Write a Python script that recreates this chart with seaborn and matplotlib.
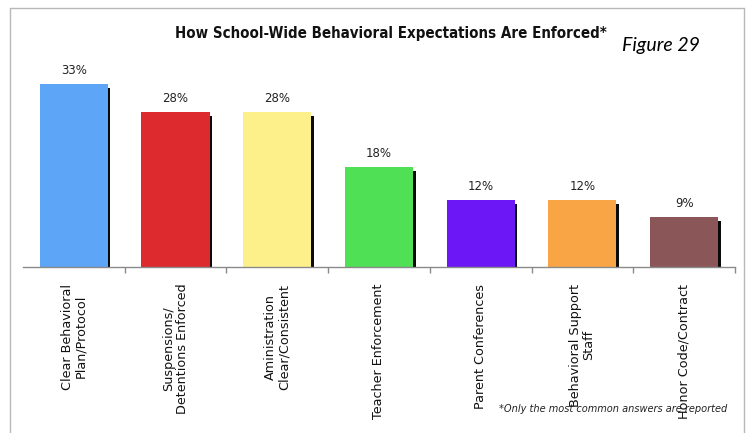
import numpy as np
import pandas as pd
import matplotlib
matplotlib.use("Agg")
import matplotlib.pyplot as plt
import seaborn as sns
from matplotlib.lines import Line2D

categories = [
    "Clear Behavioral\nPlan/Protocol",
    "Suspensions/\nDetentions Enforced",
    "Aministration\nClear/Consistent",
    "Teacher Enforcement",
    "Parent Conferences",
    "Behavioral Support\nStaff",
    "Honor Code/Contract",
]
values = [33, 28, 28, 18, 12, 12, 9]
value_labels = ["33%", "28%", "28%", "18%", "12%", "12%", "9%"]
colors = ["#5DA5F7", "#DC2A2E", "#FDF08B", "#4FE055", "#6C17F6", "#F9A545", "#8A5658"]

sns.set_theme(style="white")
plt.rcParams["font.family"] = ["DejaVu Sans"]

df = pd.DataFrame({"category": categories, "value": values})

fig = plt.figure(figsize=(7.49, 4.33), dpi=100)
ax = fig.add_axes([0.0307, 0.3834, 0.9506, 0.4741])

# dark drop shadow behind each bar
pos = np.arange(len(values))
ax.bar(pos + 0.025, np.array(values) - 0.7, width=0.67, color="#0a0a0a",
       linewidth=0, zorder=1)

sns.barplot(data=df, x="category", y="value", hue="category", palette=colors,
            legend=False, width=0.67, saturation=1, linewidth=0, ax=ax, zorder=2)

for p, v, lab in zip(pos, values, value_labels):
    ax.annotate(lab, (p, v), xytext=(0, 5), textcoords="offset points",
                ha="center", va="bottom", fontsize=8.5, color="#222222")

ax.set_xlim(-0.5, 6.5)
ax.set_ylim(0, 37)
ax.set_xlabel("")
ax.set_ylabel("")
ax.set_yticks([])
for s in ["left", "right", "top"]:
    ax.spines[s].set_visible(False)
ax.spines["bottom"].set_color("#8a8a8a")
ax.spines["bottom"].set_linewidth(1.0)

ax.set_xticks(pos)
ax.set_xticklabels(categories, rotation=90, ha="center", va="top",
                   fontsize=9.2, color="#111111", linespacing=1.0)
ax.tick_params(axis="x", which="major", length=0, pad=12)
ax.set_xticks(np.arange(0.5, 6.6, 1.0), minor=True)
ax.tick_params(axis="x", which="minor", length=4, color="#8a8a8a", width=1,
               direction="out", bottom=True)

fig.text(0.522, 0.923, "How School-Wide Behavioral Expectations Are Enforced*",
         ha="center", va="center", fontsize=10.8, fontweight="bold",
         fontstretch="condensed", family=["DejaVu Sans"], color="#111111")
fig.text(0.831, 0.896, "Figure 29", ha="left", va="center", fontsize=14,
         style="italic", family=["Lato", "DejaVu Sans"], color="#000000")
fig.text(0.971, 0.055, "*Only the most common answers are reported", ha="right",
         va="center", fontsize=7.8, style="italic", fontstretch="condensed",
         family=["DejaVu Sans"], color="#222222")

# open frame around the figure
frame_kw = dict(color="#b8b8b8", linewidth=1.0, transform=fig.transFigure)
fig.add_artist(Line2D([10 / 749, 10 / 749], [0, 1 - 8 / 433], **frame_kw))
fig.add_artist(Line2D([10 / 749, 744 / 749], [1 - 8 / 433, 1 - 8 / 433], **frame_kw))
fig.add_artist(Line2D([744 / 749, 744 / 749], [0, 1 - 8 / 433], **frame_kw))

fig.savefig("out.png", dpi=100)
